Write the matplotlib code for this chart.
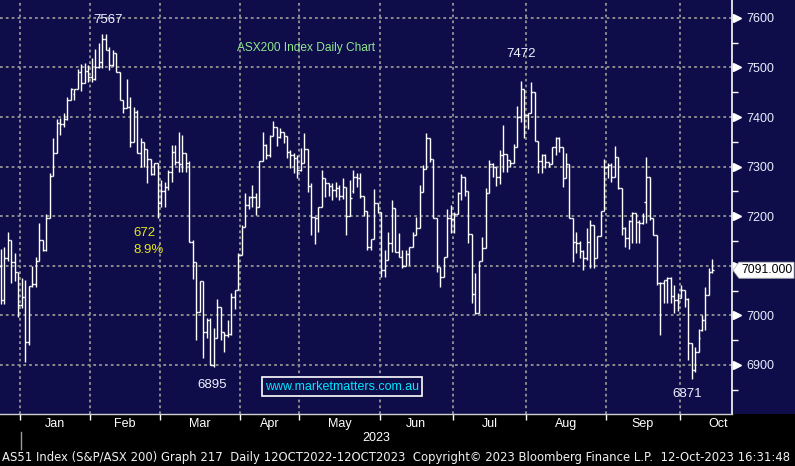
import numpy as np
import matplotlib as mpl
import matplotlib.pyplot as plt
import matplotlib.transforms as mtransforms
from matplotlib.collections import LineCollection
from matplotlib.patches import Rectangle, Polygon

mpl.rcParams.update({
    "font.family": "Liberation Sans",
    "font.size": 9,
})

NAVY = "#0e0d49"
GRID = "#8c8c8c"
LABEL = "#e8eeff"

# daily OHLC, 21-Dec-2022 .. 12-Oct-2023
opens = [7100, 7030, 7115, 7152, 7107, 7087, 7020, 7037, 6946, 7059,
         7063, 7109, 7152, 7131, 7196, 7281, 7327, 7387, 7385, 7395,
         7434, 7446, 7456, 7491, 7468, 7493, 7480, 7476, 7501, 7511,
         7557, 7535, 7505, 7529, 7491, 7434, 7418, 7420, 7349, 7410,
         7327, 7349, 7335, 7315, 7285, 7307, 7226, 7250, 7259, 7289,
         7329, 7310, 7305, 7327, 7307, 7148, 7107, 7007, 7069, 6966,
         6990, 6899, 6954, 7017, 6966, 6960, 6962, 7037, 7051, 7121,
         7178, 7222, 7238, 7238, 7218, 7311, 7343, 7323, 7361, 7380,
         7359, 7370, 7361, 7329, 7323, 7317, 7293, 7307, 7335, 7260,
         7198, 7196, 7218, 7277, 7267, 7260, 7253, 7257, 7240, 7259,
         7200, 7250, 7279, 7277, 7240, 7210, 7138, 7154, 7226, 7208,
         7091, 7112, 7146, 7216, 7127, 7117, 7099, 7123, 7138, 7162,
         7176, 7249, 7295, 7357, 7315, 7196, 7097, 7077, 7117, 7196,
         7194, 7204, 7246, 7279, 7251, 7164, 7043, 7004, 7109, 7136,
         7246, 7305, 7299, 7280, 7323, 7325, 7313, 7307, 7339, 7400,
         7456, 7404, 7408, 7450, 7351, 7311, 7323, 7309, 7305, 7339,
         7357, 7339, 7277, 7305, 7196, 7148, 7146, 7130, 7115, 7148,
         7182, 7115, 7160, 7210, 7299, 7303, 7279, 7319, 7257, 7176,
         7156, 7190, 7206, 7188, 7186, 7228, 7279, 7196, 7162, 7065,
         7065, 7071, 7075, 7039, 7031, 7035, 7051, 7033, 6944, 6890,
         6926, 6970, 6990, 7041, 7087]
highs = [7134, 7138, 7168, 7152, 7125, 7087, 7075, 7071, 7059, 7100,
         7117, 7186, 7152, 7204, 7287, 7357, 7395, 7399, 7409, 7440,
         7458, 7456, 7497, 7507, 7509, 7505, 7519, 7537, 7549, 7567,
         7567, 7541, 7535, 7529, 7491, 7434, 7476, 7440, 7420, 7414,
         7357, 7349, 7335, 7315, 7307, 7307, 7273, 7269, 7293, 7343,
         7343, 7369, 7363, 7327, 7311, 7152, 7107, 7069, 7069, 6994,
         6994, 6974, 7033, 7017, 6966, 6990, 7045, 7051, 7125, 7182,
         7246, 7240, 7262, 7246, 7311, 7370, 7345, 7363, 7392, 7380,
         7378, 7370, 7361, 7333, 7327, 7323, 7337, 7367, 7335, 7267,
         7198, 7218, 7293, 7277, 7267, 7267, 7269, 7263, 7277, 7259,
         7273, 7293, 7287, 7287, 7240, 7210, 7154, 7255, 7226, 7208,
         7132, 7168, 7232, 7216, 7166, 7132, 7132, 7138, 7168, 7198,
         7263, 7303, 7367, 7357, 7315, 7196, 7097, 7117, 7214, 7222,
         7208, 7249, 7285, 7279, 7251, 7164, 7085, 7109, 7158, 7257,
         7313, 7307, 7299, 7333, 7384, 7325, 7313, 7345, 7422, 7472,
         7456, 7408, 7470, 7450, 7351, 7325, 7325, 7309, 7339, 7359,
         7359, 7339, 7327, 7305, 7196, 7168, 7150, 7132, 7176, 7192,
         7182, 7160, 7210, 7315, 7307, 7307, 7341, 7319, 7257, 7178,
         7192, 7208, 7206, 7192, 7206, 7319, 7279, 7196, 7162, 7067,
         7071, 7077, 7077, 7061, 7045, 7061, 7051, 7035, 6944, 6936,
         6972, 7000, 7057, 7095, 7114]
lows = [7022, 7022, 7110, 7065, 7069, 6996, 7015, 6906, 6940, 7057,
        7057, 7109, 7129, 7129, 7196, 7281, 7327, 7363, 7379, 7394,
        7434, 7434, 7456, 7452, 7468, 7470, 7470, 7474, 7499, 7499,
        7535, 7495, 7503, 7491, 7434, 7408, 7418, 7339, 7349, 7327,
        7299, 7299, 7267, 7283, 7283, 7196, 7218, 7218, 7253, 7269,
        7303, 7289, 7289, 7289, 7148, 7073, 6950, 7007, 6914, 6954,
        6899, 6895, 6954, 6950, 6926, 6956, 6960, 7013, 7051, 7121,
        7178, 7214, 7218, 7202, 7218, 7311, 7315, 7319, 7361, 7341,
        7357, 7347, 7317, 7297, 7287, 7277, 7291, 7307, 7249, 7162,
        7144, 7168, 7218, 7238, 7240, 7232, 7238, 7232, 7234, 7162,
        7200, 7246, 7259, 7236, 7200, 7132, 7132, 7154, 7206, 7077,
        7077, 7112, 7127, 7127, 7117, 7095, 7099, 7101, 7138, 7162,
        7176, 7249, 7295, 7310, 7196, 7087, 7057, 7077, 7117, 7166,
        7166, 7204, 7232, 7240, 7146, 7025, 7002, 7004, 7109, 7136,
        7246, 7279, 7261, 7265, 7289, 7289, 7299, 7307, 7339, 7390,
        7357, 7376, 7408, 7351, 7287, 7287, 7297, 7299, 7305, 7323,
        7329, 7259, 7277, 7196, 7107, 7126, 7115, 7091, 7111, 7095,
        7095, 7115, 7160, 7210, 7277, 7269, 7279, 7255, 7162, 7138,
        7134, 7146, 7146, 7146, 7184, 7186, 7192, 7162, 7061, 6960,
        7025, 7025, 7025, 7004, 7008, 7035, 7017, 6910, 6871, 6886,
        6926, 6968, 6970, 7041, 7085]
closes = [7030, 7115, 7152, 7107, 7087, 7020, 7037, 6946, 7059, 7063,
          7109, 7152, 7131, 7196, 7281, 7327, 7387, 7385, 7395, 7434,
          7456, 7456, 7491, 7468, 7493, 7480, 7476, 7501, 7511, 7557,
          7535, 7505, 7529, 7491, 7434, 7418, 7420, 7349, 7410, 7327,
          7349, 7335, 7315, 7285, 7307, 7226, 7250, 7259, 7289, 7329,
          7310, 7305, 7327, 7307, 7148, 7107, 7007, 7069, 6966, 6990,
          6899, 6954, 7017, 6966, 6960, 6962, 7037, 7051, 7121, 7178,
          7222, 7238, 7238, 7218, 7311, 7343, 7323, 7361, 7380, 7359,
          7370, 7361, 7329, 7323, 7317, 7293, 7307, 7335, 7260, 7198,
          7196, 7218, 7277, 7267, 7260, 7253, 7257, 7240, 7259, 7200,
          7236, 7279, 7277, 7240, 7210, 7138, 7154, 7226, 7208, 7091,
          7112, 7146, 7216, 7127, 7117, 7099, 7123, 7138, 7162, 7176,
          7249, 7295, 7357, 7315, 7196, 7097, 7077, 7117, 7196, 7194,
          7204, 7246, 7279, 7251, 7164, 7043, 7004, 7109, 7136, 7246,
          7305, 7299, 7280, 7323, 7325, 7313, 7307, 7339, 7400, 7456,
          7404, 7408, 7450, 7351, 7311, 7323, 7309, 7305, 7339, 7357,
          7339, 7277, 7305, 7196, 7148, 7146, 7130, 7115, 7148, 7182,
          7115, 7160, 7210, 7299, 7303, 7279, 7319, 7257, 7176, 7156,
          7190, 7206, 7188, 7186, 7200, 7279, 7196, 7162, 7065, 7065,
          7071, 7075, 7039, 7031, 7025, 7051, 7033, 6944, 6890, 6926,
          6954, 6990, 7041, 7087, 7091]

# trading-day index of the first session in each month
months = ["Jan", "Feb", "Mar", "Apr", "May", "Jun", "Jul", "Aug", "Sep", "Oct"]
month_start = [6, 26, 46, 69, 86, 109, 130, 151, 174, 195]
oct_end = 217  # where October would finish (for centring its label)
y_ticks = [6900, 7000, 7100, 7200, 7300, 7400, 7500, 7600]

o = np.array(opens, float)
h = np.array(highs, float)
l = np.array(lows, float)
c = np.array(closes, float)
x = np.arange(len(c))

fig = plt.figure(figsize=(7.95, 4.66), dpi=100, facecolor="black")
ax = fig.add_axes([0, 52 / 466, 732 / 795, 414 / 466])
ax.set_facecolor(NAVY)
# navy strip behind the right-hand price scale
fig.patches.append(Rectangle((732 / 795, 52 / 466), 63 / 795, 414 / 466,
                             transform=fig.transFigure, fc=NAVY, ec="none", zorder=-5))

# ---- OHLC bars ----
hw = 0.5
segs = []
for xi, oi, hi, li, ci in zip(x, o, h, l, c):
    segs.append([(xi, li), (xi, hi)])
    segs.append([(xi - hw, oi), (xi, oi)])
    segs.append([(xi, ci), (xi + hw, ci)])
ax.add_collection(LineCollection(segs, colors="white", linewidths=1.0, zorder=3))

ax.set_xlim(-0.29, 209.6)
ax.set_ylim(6801, 7636)

# ---- grid ----
bounds = [m - 0.45 for m in month_start]
for b in bounds:
    ax.axvline(b, color=GRID, lw=1.4, ls=(0, (1.4, 1.6)), zorder=1)
for yv in y_ticks:
    ax.axhline(yv, color=GRID, lw=1.4, ls=(0, (1.4, 1.6)), zorder=1)

# ---- axes / ticks ----
for s in ["top", "left"]:
    ax.spines[s].set_visible(False)
ax.spines["right"].set_color("white")
ax.spines["right"].set_linewidth(1.2)
ax.spines["bottom"].set_color("#d0d0d0")
ax.spines["bottom"].set_linewidth(1.0)

last = c[-1]
ax.yaxis.tick_right()
ax.set_yticks(y_ticks)
# the label nearest the last price is hidden behind the price flag
ax.set_yticklabels(["" if abs(v - last) < 40 else str(v) for v in y_ticks],
                   color=LABEL, fontsize=9)
ax.set_yticks(np.arange(6850, 7650, 100), minor=True)
ax.tick_params(axis="y", which="major", length=0, pad=10)
ax.tick_params(axis="y", which="minor", length=4, width=1.0, color="white", direction="out")
tri = mtransforms.blended_transform_factory(ax.transAxes, ax.transData)
ax.plot([1.0 + 4.5 / 732] * len(y_ticks), y_ticks, ls="none", marker=">", ms=6,
        mfc="white", mec="white", transform=tri, clip_on=False, zorder=5)

ax.set_xticks(bounds)
ax.set_xticklabels([])
ax.tick_params(axis="x", which="major", length=4, width=1.0, color="white", direction="out")
edges = month_start + [oct_end]
mids = [(edges[k] + edges[k + 1]) / 2 - 0.45 for k in range(len(months))]
ax.set_xticks(mids, minor=True)
ax.set_xticklabels(months, minor=True, color="white", fontsize=9)
ax.tick_params(axis="x", which="minor", length=0, pad=3)

# ---- last price flag (drawn in pixels next to the right spine) ----
ypix = ax.transData.transform((0, last))[1]
x0 = ax.transAxes.transform((1, 0))[0] + 1
flag = Polygon([(x0, ypix), (x0 + 6, ypix + 8), (x0 + 61, ypix + 8),
                (x0 + 61, ypix - 8), (x0 + 6, ypix - 8)], closed=True,
               transform=mtransforms.IdentityTransform(), fc="white", ec="#bbbbbb",
               lw=0.6, zorder=6, clip_on=False)
fig.add_artist(flag)
fig.text((x0 + 8) / 795, ypix / 466, f"{last:.3f}", color="black", fontsize=8.8,
         ha="left", va="center", zorder=7)

# ---- annotations ----
NUM = "#eef2ff"
pk = int(np.argmax(h))
tr = int(np.argmin(l[:100]))
pk2 = 100 + int(np.argmax(h[100:]))
tr2 = 100 + int(np.argmin(l[100:]))
ax.annotate(f"{h[pk]:.0f}", xy=(pk, h[pk]), xytext=(4, 6), textcoords="offset points",
            ha="center", va="bottom", color=NUM, fontsize=9.5)
ax.annotate(f"{h[pk2]:.0f}", xy=(pk2, h[pk2]), xytext=(0, 15), textcoords="offset points",
            ha="center", va="bottom", color=NUM, fontsize=9.5)
ax.annotate(f"{l[tr]:.0f}", xy=(tr, l[tr]), xytext=(-1, -8), textcoords="offset points",
            ha="center", va="top", color=NUM, fontsize=9.5)
ax.annotate(f"{l[tr2]:.0f}", xy=(tr2, l[tr2]), xytext=(-3, -6), textcoords="offset points",
            ha="center", va="top", color=NUM, fontsize=9.5)

drop = h[pk] - l[tr]
ax.text(133 / 732, 1 - 233 / 414, f"{drop:.0f}", transform=ax.transAxes,
        color="#e6e619", fontsize=9.5, ha="left", va="center")
ax.text(133 / 732, 1 - 250 / 414, f"{drop / h[pk] * 100:.1f}%", transform=ax.transAxes,
        color="#e6e619", fontsize=9.5, ha="left", va="center")

ax.text(237 / 732, 1 - 48 / 414, "ASX200 Index Daily Chart", transform=ax.transAxes,
        color="#8fe68f", fontsize=8.6, ha="left", va="center")

ax.text(342 / 732, 1 - 386.5 / 414, "www.marketmatters.com.au", transform=ax.transAxes,
        color="#00e8ff", fontsize=9, ha="center", va="center", zorder=6,
        bbox=dict(boxstyle="square,pad=0.25", fc=NAVY, ec="white", lw=1.2))

# ---- bottom strip ----
fig.text(376 / 795, 1 - 438 / 466, "2023", color="white", fontsize=9, ha="center", va="center")
fig.add_artist(plt.Line2D([21 / 795, 21 / 795], [1 - 432 / 466, 1 - 449 / 466],
                          color="#9a9a9a", lw=1.0, transform=fig.transFigure))
foot = fig.text(2 / 795, 1 - 457 / 466,
                "AS51 Index (S&P/ASX 200) Graph 217  Daily 12OCT2022-12OCT2023  "
                "Copyright\u00a9 2023 Bloomberg Finance L.P.  12-Oct-2023 16:31:48",
                color="#f0f0f0", fontsize=9, ha="left", va="center", family="DejaVu Sans")
fig.canvas.draw()
w = foot.get_window_extent().width
foot.set_fontsize(9 * 790 / w)

fig.savefig("out.png", dpi=100, facecolor="black")
